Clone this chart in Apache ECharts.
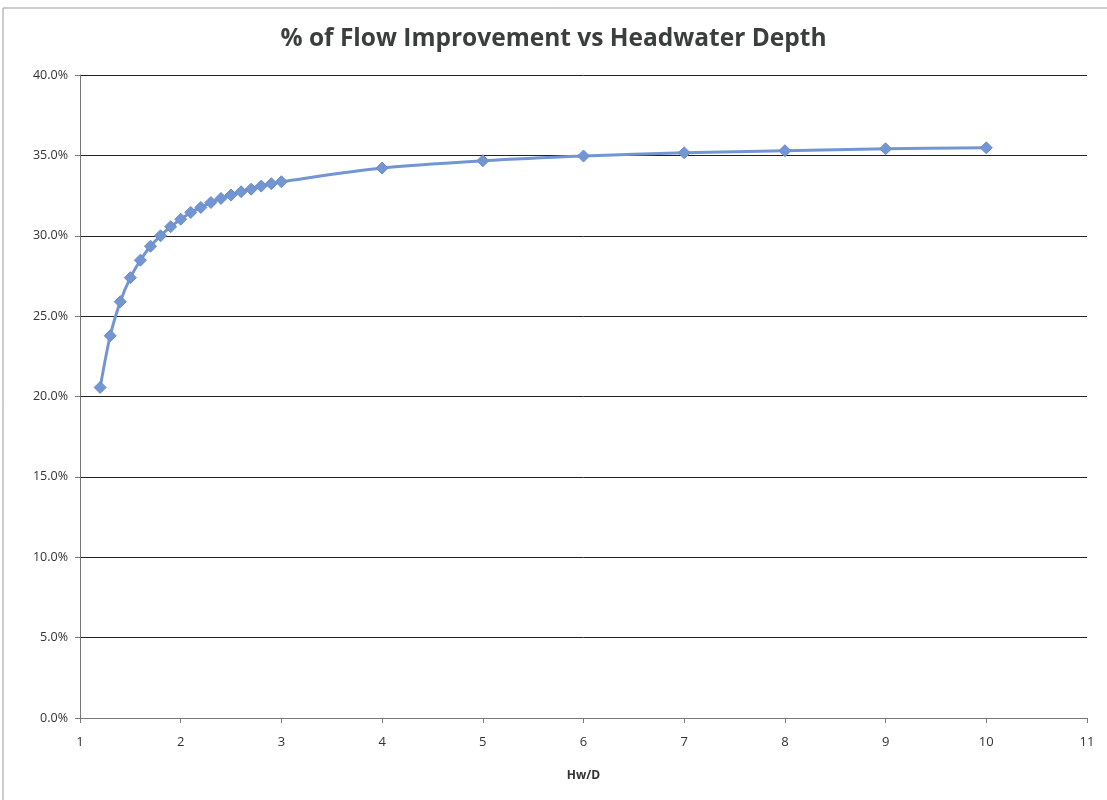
<!DOCTYPE html>
<html><head><meta charset="utf-8">
<script src="https://cdn.jsdelivr.net/npm/echarts@6/dist/echarts.min.js"></script>
<style>html,body{margin:0;padding:0;background:#fff}#c{width:1107px;height:800px}</style>
</head><body><div id="c"></div>
<script>
const titleText = '% of Flow Improvement vs Headwater Depth';
const xAxisName = 'Hw/D';
const hwD = [1.2,1.3,1.4,1.5,1.6,1.7,1.8,1.9,2.0,2.1,2.2,2.3,2.4,2.5,2.6,2.7,2.8,2.9,3,4,5,6,7,8,9,10];
const improvement = [0.2056,0.2378,0.2590,0.2739,0.2848,0.2935,0.3000,0.3056,0.3103,0.3145,0.3176,0.3207,0.3232,0.3253,0.3274,0.3290,0.3309,0.3324,0.3336,0.3421,0.3466,0.3496,0.3516,0.3529,0.3541,0.3547];
const xTicks = [1,2,3,4,5,6,7,8,9,10,11];
const yTicks = [0,0.05,0.10,0.15,0.20,0.25,0.30,0.35,0.40];

const chart = echarts.init(document.getElementById('c'));
chart.setOption({
  backgroundColor: '#fff',
  graphic: [{type:'rect', shape:{x:3,y:8,width:1110,height:800}, style:{fill:'none', stroke:'#999', lineWidth:1}}],
  title: {text: titleText, left: 'center', top: 22,
    textStyle: {fontFamily: 'Open Sans', fontSize: 24.5, fontWeight: 'bold', color: '#3b3f3b'}},
  grid: {left: 80, right: 20, top: 75, bottom: 82},
  xAxis: {type: 'value', min: xTicks[0], max: xTicks[xTicks.length-1], interval: 1,
    name: xAxisName, nameLocation: 'middle', nameGap: 52,
    nameTextStyle: {fontFamily: 'Open Sans', fontSize: 12, fontWeight: 'bold', color: '#333'},
    axisLine: {lineStyle: {color: '#777'}},
    axisTick: {length: 5, lineStyle: {color: '#777'}},
    axisLabel: {margin: 18, fontFamily: 'Open Sans', fontSize: 13, color: '#333'},
    splitLine: {show: false}},
  yAxis: {type: 'value', min: yTicks[0], max: yTicks[yTicks.length-1], interval: 0.05,
    axisLine: {show: true, lineStyle: {color: '#777'}},
    axisTick: {show: true, length: 5, lineStyle: {color: '#777'}},
    axisLabel: {margin: 12, fontFamily: 'Open Sans', fontSize: 12.5, color: '#333',
      formatter: v => (v*100).toFixed(1) + '%'},
    splitLine: {lineStyle: {color: '#222', width: 1}}},
  series: [{type: 'line', data: hwD.map((x,i)=>[x, improvement[i]]),
    smooth: 0.3, symbol: 'diamond', symbolSize: 12,
    lineStyle: {color: '#7396d3', width: 3},
    itemStyle: {color: '#7396d3', borderColor: '#6a8dcc', borderWidth: 1}}]
});
</script></body></html>
